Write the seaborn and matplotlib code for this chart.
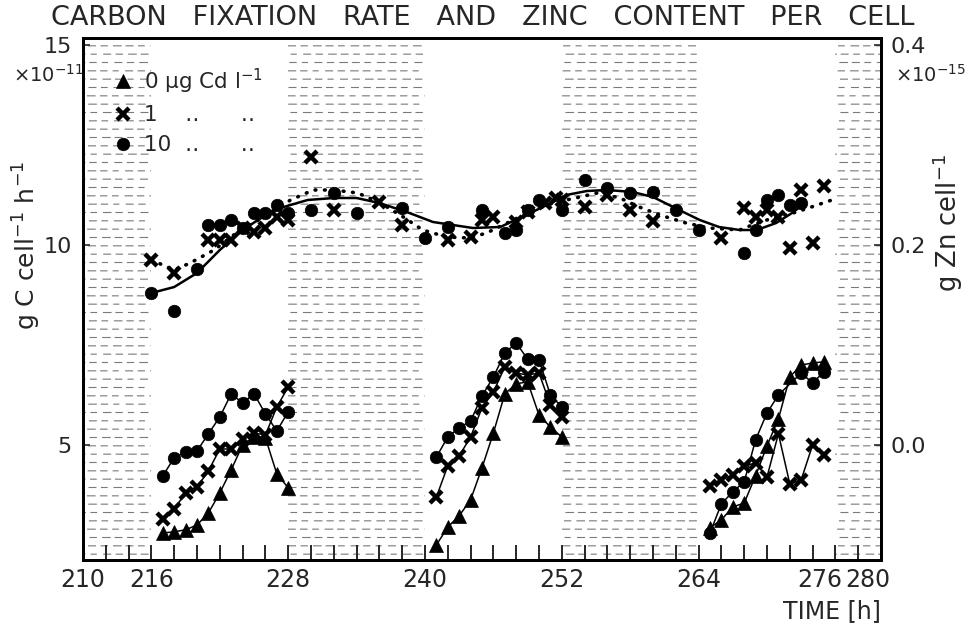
import numpy as np
import pandas as pd
import matplotlib
matplotlib.use("Agg")
import matplotlib.pyplot as plt
import matplotlib.hatch as mhatch
from matplotlib.path import Path
from matplotlib.lines import Line2D
from matplotlib.transforms import ScaledTranslation
import seaborn as sns

# ---------------- data ----------------
# carbon fixation rate (x10^-11 g C cell^-1 h^-1), light periods
t_p1 = [217, 218, 219, 220, 221, 222, 223, 224, 225, 226, 227, 228]
t_p2 = [241, 242, 243, 244, 245, 246, 247, 248, 249, 250, 251, 252]
t_p3 = [265, 266, 267, 268, 269, 270, 271, 272, 273, 274, 275]
t_p3_cd10 = [265, 266, 267, 268, 269, 270, 271, 273, 274, 275]

cfix_cd0_p1 = [2.8, 2.83, 2.88, 3.0, 3.3, 3.8, 4.38, 5.0, 5.2, 5.18, 4.28, 3.93]
cfix_cd0_p2 = [2.5, 2.95, 3.23, 3.63, 4.43, 5.3, 6.28, 6.53, 6.58, 5.75, 5.45, 5.2]
cfix_cd0_p3 = [2.93, 3.13, 3.45, 3.55, 4.23, 4.98, 5.65, 6.7, 7.0, 7.05, 7.08]

cfix_cd1_p1 = [3.15, 3.4, 3.8, 3.95, 4.35, 4.9, 4.9, 5.15, 5.3, 5.25, 5.95, 6.45]
cfix_cd1_p2 = [3.7, 4.48, 4.73, 5.2, 5.93, 6.33, 6.95, 6.8, 6.75, 6.8, 6.0, 5.7]
cfix_cd1_p3 = [3.98, 4.13, 4.25, 4.48, 4.55, 4.2, 5.28, 4.03, 4.13, 5.0, 4.75]

cfix_cd10_p1 = [4.23, 4.68, 4.83, 4.85, 5.28, 5.7, 6.28, 6.05, 6.28, 5.78, 5.35, 5.83]
cfix_cd10_p2 = [4.7, 5.2, 5.43, 5.6, 6.23, 6.7, 7.3, 7.55, 7.15, 7.13, 6.25, 5.95]
cfix_cd10_p3 = [2.8, 3.53, 3.83, 4.08, 5.13, 5.8, 6.25, 6.8, 6.55, 6.83]

# zinc content (x10^-15 g Zn cell^-1)
zn_t_cd10 = [216, 218, 220, 221, 222, 223, 224, 225, 226, 227, 228, 230, 232, 234,
             238, 240, 242, 245, 247, 248, 249, 250, 252, 254, 256, 258, 260, 262,
             264, 268, 269, 270, 271, 272, 273]
zn_cd10 = [0.152, 0.134, 0.176, 0.22, 0.22, 0.225, 0.217, 0.232, 0.232, 0.24, 0.232,
           0.235, 0.252, 0.232, 0.237, 0.207, 0.218, 0.235, 0.212, 0.215, 0.235, 0.245,
           0.235, 0.265, 0.257, 0.252, 0.253, 0.235, 0.215, 0.192, 0.215, 0.245, 0.25,
           0.24, 0.242]
zn_t_cd1 = [216, 218, 221, 222, 223, 224, 225, 226, 227, 228, 230, 232, 236, 238,
            242, 244, 245, 246, 248, 249, 250.5, 251.5, 252, 254, 256, 258, 260, 266,
            268, 269, 270, 271, 272, 273, 274, 275]
zn_cd1 = [0.185, 0.172, 0.205, 0.205, 0.205, 0.217, 0.213, 0.217, 0.228, 0.225, 0.288,
          0.235, 0.243, 0.22, 0.205, 0.208, 0.225, 0.228, 0.223, 0.233, 0.242, 0.247,
          0.245, 0.238, 0.25, 0.235, 0.224, 0.207, 0.237, 0.228, 0.235, 0.228, 0.197,
          0.255, 0.202, 0.259]

# fitted curves
fit_solid_t = [216, 218, 220, 222, 224, 226.7, 229.7, 232, 234, 236, 238.4, 240.7,
               244.2, 246.6, 248.3, 250.7, 252.4, 254.2, 256, 258.2, 260, 262.3,
               264.1, 265.8, 267.6, 269.1, 270.8, 272.2, 273.1]
fit_solid_zn = [0.152, 0.158, 0.172, 0.195, 0.215, 0.235, 0.245, 0.247, 0.247, 0.242,
                0.233, 0.223, 0.217, 0.218, 0.227, 0.24, 0.25, 0.254, 0.255, 0.253,
                0.248, 0.235, 0.225, 0.218, 0.215, 0.215, 0.222, 0.232, 0.24]
fit_dot_t = [216, 218, 219.4, 221.5, 223.8, 226.2, 228.2, 230.2, 232, 234.1, 236.1,
             238.1, 239.8, 241.9, 243.9, 245.4, 247.2, 249.2, 251.2, 253.6, 255.1,
             257.1, 258.8, 260.6, 262.9, 264.9, 267.6, 268.7, 270.5, 272.6, 275.7]
fit_dot_zn = [0.185, 0.175, 0.182, 0.195, 0.215, 0.23, 0.245, 0.255, 0.255, 0.252,
              0.242, 0.228, 0.215, 0.208, 0.207, 0.212, 0.222, 0.233, 0.242, 0.248,
              0.252, 0.247, 0.238, 0.23, 0.222, 0.217, 0.215, 0.22, 0.227, 0.233, 0.245]

dark_periods = [(204, 216), (228, 240), (252, 264), (276, 288)]
x_ticks = [210, 216, 228, 240, 252, 264, 276, 280]
left_ticks = [5, 10, 15]
right_ticks = [0.0, 0.2, 0.4]
legend_labels = ["0 µg Cd l$^{-1}$",
                 "1    \u2025      \u2025",
                 "10  \u2025      \u2025"]
title_text = "CARBON   FIXATION   RATE   AND   ZINC   CONTENT   PER   CELL"


# ---------------- dashed hatch (texture of the dark periods) ----------------
class DashedHorizontalHatch(mhatch.HatchPatternBase):
    offsets = [0.0, 0.35, 0.7, 0.15, 0.55, 0.85, 0.25, 0.6, 0.05, 0.45, 0.8, 0.3]
    lengths = [0.55, 0.45, 0.6, 0.5, 0.4, 0.55, 0.5, 0.6]

    def __init__(self, hatch, density):
        self.num_rows = int((hatch.count('-') + hatch.count('+')) * density)
        self.per_row = 8
        self.num_vertices = self.num_rows * self.per_row * 2

    def set_vertices_and_codes(self, vertices, codes):
        k = 0
        cell = 1.0 / self.per_row
        for r in range(self.num_rows):
            y = (r + 0.5) / self.num_rows
            off = self.offsets[r % len(self.offsets)] * 0.35 * cell
            for j in range(self.per_row):
                x0 = j * cell + off
                x1 = x0 + self.lengths[(r + j) % len(self.lengths)] * cell
                vertices[k] = (x0, y)
                codes[k] = Path.MOVETO
                vertices[k + 1] = (min(x1, 0.999), y)
                codes[k + 1] = Path.LINETO
                k += 2


mhatch._hatch_types = [DashedHorizontalHatch if h is mhatch.HorizontalHatch else h
                       for h in mhatch._hatch_types]

# ---------------- tidy frames ----------------
rows = []
for cd, segs in [("0", [(t_p1, cfix_cd0_p1), (t_p2, cfix_cd0_p2), (t_p3, cfix_cd0_p3)]),
                 ("1", [(t_p1, cfix_cd1_p1), (t_p2, cfix_cd1_p2), (t_p3, cfix_cd1_p3)]),
                 ("10", [(t_p1, cfix_cd10_p1), (t_p2, cfix_cd10_p2), (t_p3_cd10, cfix_cd10_p3)])]:
    for k, (tt, vv) in enumerate(segs):
        for t, v in zip(tt, vv):
            rows.append({"time": t, "rate": v, "cd": cd, "seg": k})
cfix = pd.DataFrame(rows)

zn = pd.concat([
    pd.DataFrame({"time": zn_t_cd10, "zn": zn_cd10, "cd": "10"}),
    pd.DataFrame({"time": zn_t_cd1, "zn": zn_cd1, "cd": "1"}),
], ignore_index=True)
fit_solid = pd.DataFrame({"time": fit_solid_t, "zn": fit_solid_zn})
fit_dot = pd.DataFrame({"time": fit_dot_t, "zn": fit_dot_zn})

# ---------------- style ----------------
sns.set_theme(style="ticks")
plt.rcParams["font.family"] = ["DejaVu Sans"]
plt.rcParams["hatch.linewidth"] = 0.8
plt.rcParams["axes.linewidth"] = 2.0

W, H = 966, 626
fig = plt.figure(figsize=(W / 100, H / 100), dpi=100)
ax = fig.add_axes([83 / W, 1 - 560 / H, 798 / W, 522 / H])
ax2 = ax.twinx()

y0, y1 = 2.125, 15.175
ax.set_xlim(210, 280)
ax.set_ylim(y0, y1)
ax2.set_ylim((y0 - 5) * 0.04, (y1 - 5) * 0.04)

for a, b in dark_periods:
    ax.axvspan(a, b, facecolor="white", edgecolor="#7a7a7a", hatch="--",
               linewidth=0, zorder=0)

marker_style = {
    "0": dict(marker="^", markersize=10, markeredgewidth=0.5),
    "1": dict(marker="x", markersize=8.5, markeredgewidth=3.2),
    "10": dict(marker="o", markersize=9, markeredgewidth=0.5),
}

for cd, sub in cfix.groupby("cd"):
    sns.lineplot(data=sub, x="time", y="rate", units="seg", estimator=None,
                 sort=False, color="black", linewidth=1.1, ax=ax,
                 markeredgecolor="black", markerfacecolor="black",
                 legend=False, zorder=3, **marker_style[cd])

for cd, sub in zn.groupby("cd"):
    sns.lineplot(data=sub, x="time", y="zn", estimator=None, sort=False,
                 color="black", linewidth=0, ax=ax2, markeredgecolor="black",
                 markerfacecolor="black", legend=False, zorder=3, **marker_style[cd])

sns.lineplot(data=fit_solid, x="time", y="zn", estimator=None, sort=False,
             color="black", linewidth=1.8, ax=ax2, legend=False, zorder=2)
sns.lineplot(data=fit_dot, x="time", y="zn", estimator=None, sort=False,
             color="black", linewidth=2.6, ax=ax2, legend=False, zorder=2,
             linestyle=(0, (0.2, 2.4)), dash_capstyle="round")

# ---------------- axes ----------------
ax.set_xticks(x_ticks)
ax.set_xticklabels([str(v) for v in x_ticks])
ax.set_xticks(np.arange(210, 281, 2), minor=True)
ax.tick_params(axis="x", which="both", direction="in", length=11, width=1.4,
               labelsize=17, pad=6, top=False)
ax.set_yticks(left_ticks)
ax.set_yticklabels([str(v) for v in left_ticks])
ax.tick_params(axis="y", which="both", direction="in", length=5, width=1.2,
               labelsize=16, pad=8, right=False)
ax.set_yticks([], minor=True)
ax2.set_yticks(right_ticks)
ax2.set_yticklabels([f"{v:.1f}" for v in right_ticks])
ax2.tick_params(axis="y", direction="in", length=5, width=1.2, labelsize=16, pad=7)
ax2.set_xlim(210, 280)

ax.set_xlabel("TIME [h]", fontsize=17, loc="right", labelpad=5)
ax.set_ylabel("g C cell$^{-1}$ h$^{-1}$", fontsize=18)
ax.yaxis.set_label_coords(-0.050, 0.603)
ax2.set_ylabel("g Zn cell$^{-1}$", fontsize=18.5)
ax2.yaxis.set_label_coords(1.062, 0.645)

for sp in list(ax.spines.values()) + list(ax2.spines.values()):
    sp.set_linewidth(2.0)
    sp.set_color("black")

# crowded labels at the right end, nudged as in the original print
shifts = {"276": -16, "280": -13}
for lbl in ax.get_xticklabels():
    if lbl.get_text() in shifts:
        lbl.set_transform(lbl.get_transform() +
                          ScaledTranslation(shifts[lbl.get_text()] / 100, 0,
                                            fig.dpi_scale_trans))

fig.text(48 / W, 1 - 75 / H, "×10$^{-11}$", fontsize=14, ha="center", va="center")
fig.text(930 / W, 1 - 75 / H, "×10$^{-15}$", fontsize=14, ha="center", va="center")
fig.text(0.5, 1 - 18 / H, title_text, fontsize=19.5, ha="center", va="center")

handles = [Line2D([], [], color="black", linestyle="None", **marker_style[k])
           for k in ["0", "1", "10"]]
ax.legend(handles, legend_labels, loc="upper left", bbox_to_anchor=(0.02, 0.97),
          frameon=False, fontsize=15.5, handlelength=1.0, handletextpad=0.5,
          labelspacing=0.45, borderaxespad=0.2)

fig.savefig("out.png", dpi=100)
